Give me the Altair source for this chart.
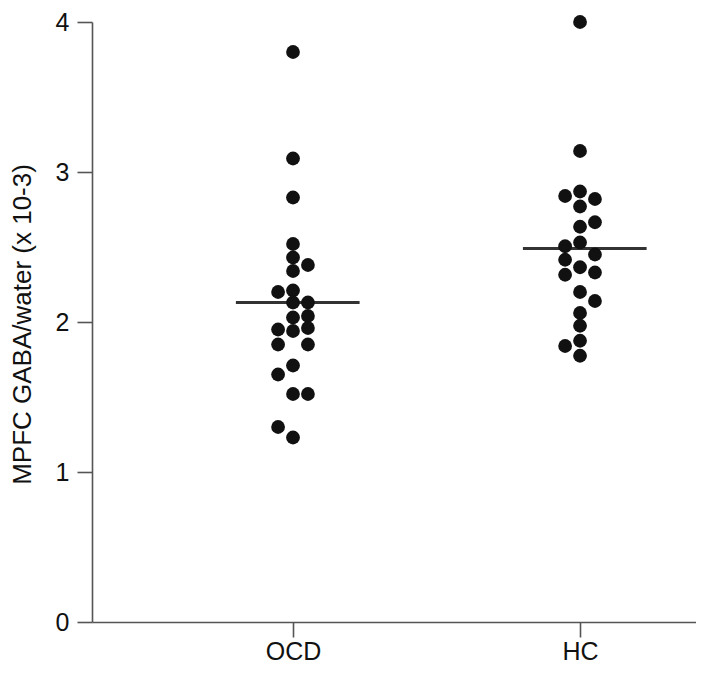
import altair as alt
import pandas as pd

groups = ["OCD", "HC"]
group_pos = [1, 2]

ocd_values = [3.80, 3.09, 2.83, 2.52, 2.43, 2.38, 2.34, 2.20, 2.21, 2.13, 2.13, 2.03,
              2.04, 1.95, 1.94, 1.96, 1.85, 1.85, 1.71, 1.65, 1.52, 1.52, 1.30, 1.23]
ocd_cols = [0, 0, 0, 0, 0, 1, 0, -1, 0, 0, 1, 0, 1, -1, 0, 1, -1, 1, 0, -1, 0, 1, -1, 0]

hc_values = [4.00, 3.14, 2.87, 2.84, 2.82, 2.77, 2.665, 2.635, 2.53, 2.505, 2.45, 2.415,
             2.365, 2.33, 2.315, 2.20, 2.14, 2.06, 1.975, 1.875, 1.84, 1.775]
hc_cols = [0, 0, 0, -1, 1, 0, 1, 0, 0, -1, 1, -1, 0, 1, -1, 0, 1, 0, 0, 0, -1, 0]

group_means = [2.13, 2.49]

FONT = "Liberation Sans"

pts = pd.DataFrame({
    "group": ["OCD"] * len(ocd_values) + ["HC"] * len(hc_values),
    "gpos": [group_pos[0]] * len(ocd_values) + [group_pos[1]] * len(hc_values),
    "value": ocd_values + hc_values,
    "col": ocd_cols + hc_cols,
})
means = pd.DataFrame({"group": groups, "gpos": group_pos, "mean": group_means})

xscale = alt.Scale(domain=[0.2997, 2.404], nice=False, zero=False)
yscale = alt.Scale(domain=[0, 4], nice=False)

xaxis = alt.Axis(values=[1, 2], labelExpr="datum.value == 1 ? 'OCD' : 'HC'",
                 title=None, grid=False, labelPadding=2)
yaxis = alt.Axis(values=[0, 1, 2, 3, 4], format="d", grid=False,
                 title="MPFC GABA/water (x 10-3)", labelPadding=8,
                 titleX=-70, titleY=302, titleBaseline="middle", titleAngle=-90)

dots = alt.Chart(pts).transform_calculate(
    xp="datum.gpos + datum.col * 0.052"
).mark_circle(size=190, color="#111111", opacity=1).encode(
    x=alt.X("xp:Q", scale=xscale, axis=xaxis),
    y=alt.Y("value:Q", scale=yscale, axis=yaxis),
)

rules = alt.Chart(means).transform_calculate(
    x1="datum.gpos - 0.199", x2="datum.gpos + 0.232"
).mark_rule(strokeWidth=3, color="#333333").encode(
    x=alt.X("x1:Q", scale=xscale),
    x2="x2:Q",
    y=alt.Y("mean:Q", scale=yscale),
)

chart = alt.layer(rules, dots).properties(
    width=604, height=600,
    autosize=alt.AutoSizeParams(type="none"),
    padding={"left": 84, "top": 14, "right": 0, "bottom": 45},
).configure_view(stroke=None).configure_axis(
    domainColor="#555555", domainWidth=1.6, tickColor="#555555", tickWidth=1.6,
    tickSize=15, labelFont=FONT, labelFontSize=25, labelColor="#111111",
    titleFont=FONT, titleFontSize=26, titleFontWeight="normal", titleColor="#111111",
)

chart.save("out.html", embed_options={"renderer": "svg", "actions": False})
